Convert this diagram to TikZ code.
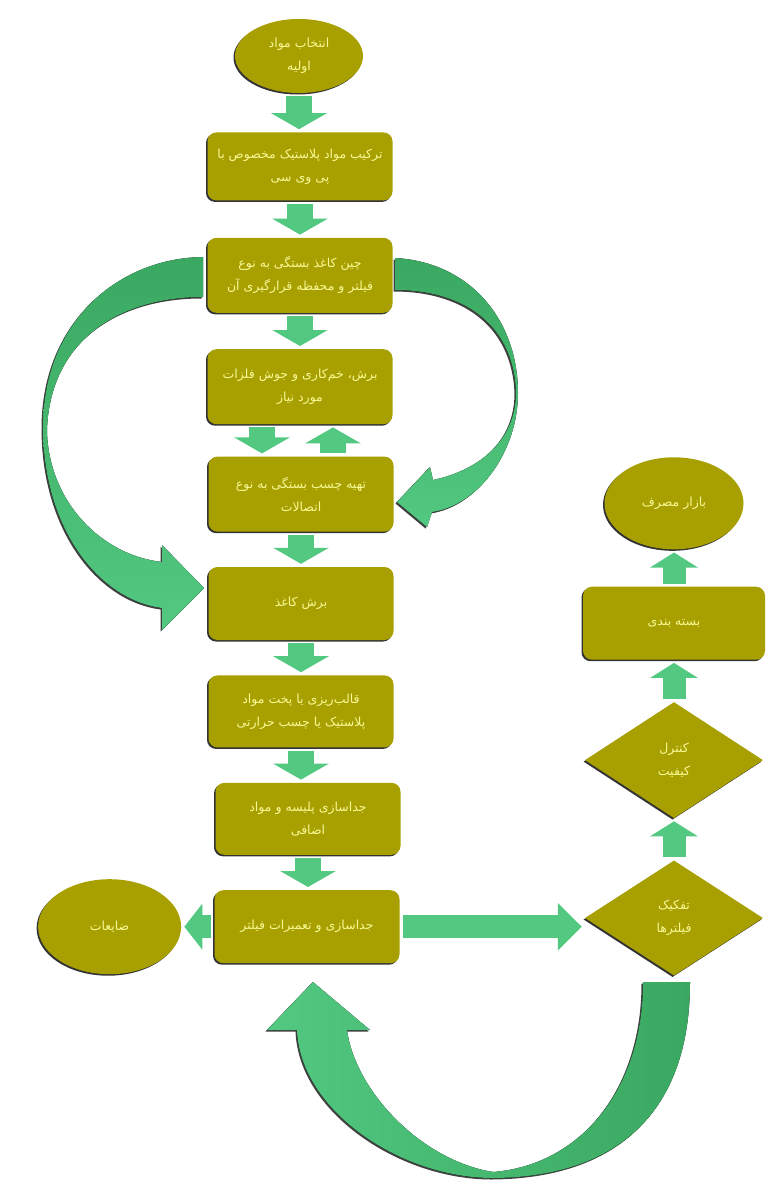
\documentclass[tikz,border=0pt]{standalone}
\usepackage{fontspec}
\newfontfamily\arabicfont[Script=Arabic]{DejaVu Sans}
\TeXXeTstate=1
\usetikzlibrary{%
    arrows.meta,
    backgrounds,
    positioning,
    shadows,
    shapes.geometric
}
\definecolor{boxolive}{RGB}{168,160,0}
\definecolor{labelyellow}{RGB}{248,248,150}
\definecolor{greenlight}{RGB}{82,200,128}
\definecolor{greendark}{RGB}{58,168,96}
\newcommand{\rl}[1]{\beginR#1\endR}
\tikzset{
    flowshape/.style = {fill=boxolive, text=labelyellow, align=center, inner sep=1pt,
        font=\arabicfont\fontsize{12.5}{23}\selectfont,
        drop shadow={shadow xshift=-1.5pt, shadow yshift=-1.5pt, fill=black!80, opacity=1}},
    stepbox/.style = {flowshape, rectangle, rounded corners=9pt, minimum width=185pt, minimum height=73pt},
    endpoint/.style = {flowshape, ellipse, minimum width=138pt, minimum height=92pt},
    decision/.style = {flowshape, diamond, minimum width=178pt, minimum height=116pt},
    blockarrow/.style = {line width=26pt, draw=greenlight, -{Triangle[width=55pt,length=16pt]},
        shorten <=3pt, shorten >=3pt},
    sidearrow/.style = {blockarrow, line width=23pt, -{Triangle[width=46pt,length=24pt]}},
    uparrow/.style = {blockarrow, line width=23pt, -{Triangle[width=47pt,length=15pt]}},
    bendarrow/.style = {preaction={fill=black!75, transform canvas={shift={(-1.5pt,-1.5pt)}}}}
}

\begin{document}
\begin{tikzpicture}[x=1pt, y=-1pt]
    \useasboundingbox (0,0) rectangle (768,1194);

    \node[endpoint, minimum width=128pt, minimum height=74pt] (start) at (299,56) {\rl{انتخاب مواد}\\\rl{اولیه}};
    \node[stepbox, minimum height=68pt] (mixing) [below=39pt of start, xshift=1pt] {\rl{ترکیب مواد پلاستیک مخصوص با}\\\rl{پی وی سی}};
    \node[stepbox, minimum height=75pt] (folding) [below=37pt of mixing] {\rl{چین کاغذ بستگی به نوع}\\\rl{فیلتر و محفظه قرارگیری آن}};
    \node[stepbox, minimum height=75pt] (metalwork) [below=36pt of folding] {\rl{برش، خم‌کاری و جوش فلزات}\\\rl{مورد نیاز}};
    \node[stepbox, minimum height=75pt] (glue) [below=32pt of metalwork, xshift=1pt] {\rl{تهیه چسب بستگی به نوع}\\\rl{اتصالات}};
    \node[stepbox] (papercut) [below=35pt of glue] {\rl{برش کاغذ}};
    \node[stepbox, minimum height=72pt] (moulding) [below=35pt of papercut] {\rl{قالب‌ریزی یا پخت مواد}\\\rl{پلاستیک یا چسب حرارتی}};
    \node[stepbox, minimum height=72pt] (deburr) [below=35pt of moulding, xshift=7pt] {\rl{جداسازی پلیسه و مواد}\\\rl{اضافی}};
    \node[stepbox] (repair) [below=35pt of deburr, xshift=-1pt] {\rl{جداسازی و تعمیرات فیلتر}};
    \node[endpoint, minimum width=143pt, minimum height=95pt] (waste) [left=33pt of repair] {\rl{ضایعات}};

    \node[decision, minimum height=115pt] (sorting) at (674,918) {\rl{تفکیک}\\\rl{فیلترها}};
    \node[decision] (qcheck) [above=42pt of sorting] {\rl{کنترل}\\\rl{کیفیت}};
    \node[stepbox, minimum width=182pt] (packing) [above=42pt of qcheck] {\rl{بسته بندی}};
    \node[endpoint, minimum width=139pt] (market) [above=37pt of packing] {\rl{بازار مصرف}};

    \foreach \from/\to in {start/mixing, mixing/folding, folding/metalwork, glue/papercut,
        papercut/moulding, moulding/deburr, deburr/repair}
        \draw[blockarrow] (\from.south) -- (\from.south |- \to.north);
    \draw[blockarrow] ([xshift=-38pt]metalwork.south) -- ([xshift=-38pt]metalwork.south |- glue.north);
    \draw[blockarrow] ([xshift=32pt]glue.north) -- ([xshift=32pt]glue.north |- metalwork.south);
    \foreach \from/\to in {sorting/qcheck, qcheck/packing, packing/market}
        \draw[uparrow] (\from.north) -- (\from.north |- \to.south);
    \draw[sidearrow] (repair.east) -- (repair.east -| sorting.west);
    \draw[sidearrow, -{Triangle[width=45pt,length=18pt]}] (repair.west) -- (repair.west -| waste.east);

    \begin{scope}[on background layer]
        \fill[bendarrow, top color=greendark, bottom color=greenlight]
            (203,257) .. controls (120,258) and (43,320) .. (43,427)
            .. controls (43,530) and (100,600) .. (162,608)
            -- (162,630) -- (204,588) -- (162,545) -- (162,562)
            .. controls (100,555) and (48,500) .. (47,430)
            .. controls (50,340) and (120,297) .. (203,297) -- cycle;
        \fill[bendarrow, top color=greendark, bottom color=greenlight]
            (395,258) .. controls (470,262) and (518,320) .. (518,393)
            .. controls (518,450) and (480,505) .. (432,512)
            -- (427,527) -- (397,502) -- (430,467) -- (433,480)
            .. controls (480,470) and (516,440) .. (516,392)
            .. controls (514,330) and (470,290) .. (395,290) -- cycle;
        \fill[bendarrow, left color=greenlight, right color=greendark]
            (690,982) .. controls (690,1110) and (620,1177) .. (493,1178)
            .. controls (400,1178) and (300,1110) .. (297,1030)
            -- (267,1030) -- (313,982) -- (370,1030) -- (347,1030)
            .. controls (355,1090) and (420,1160) .. (493,1172)
            .. controls (580,1165) and (643,1090) .. (643,982) -- cycle;
    \end{scope}
\end{tikzpicture}
\end{document}
